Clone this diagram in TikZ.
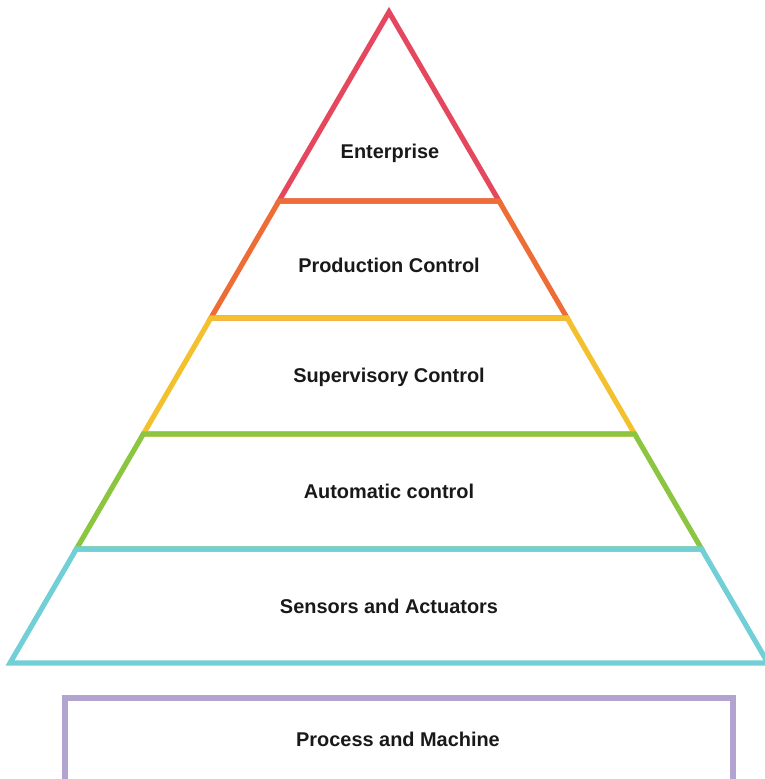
\documentclass[tikz,border=0pt]{standalone}
\usepackage{fontspec}
\setmainfont{Liberation Sans}
\usetikzlibrary{calc}
\definecolor{layerRed}{HTML}{E5485E}
\definecolor{layerOrange}{HTML}{EE6D36}
\definecolor{layerYellow}{HTML}{F4C12E}
\definecolor{layerGreen}{HTML}{8CC540}
\definecolor{layerCyan}{HTML}{72CFD6}
\definecolor{layerPurple}{HTML}{B3A3D1}

\begin{document}
\begin{tikzpicture}[
  x=0.03cm,y=-0.03cm,
  layer/.style={line width=4.4pt,line join=miter},
  label/.style={font=\bfseries\fontsize{17}{19}\selectfont,text=black!90,inner sep=1pt}
]
\useasboundingbox (0,0) rectangle (765,779);

\coordinate (apex) at (389,12);
\coordinate (baseL) at (10,663);
\coordinate (baseR) at (768,663);

% level boundaries, given as fraction of the height from the apex
\foreach \f [count=\i] in {0.2903,0.4700,0.6482,0.8249,1} {
  \coordinate (l\i) at ($(apex)!\f!(baseL)$);
  \coordinate (r\i) at ($(apex)!\f!(baseR)$);
}

\draw[layer,draw=layerRed] (apex) -- (l1) -- (r1) -- cycle;
\draw[layer,draw=layerOrange] (l1) -- (l2) -- (r2) -- (r1) -- cycle;
\draw[layer,draw=layerYellow] (l2) -- (l3) -- (r3) -- (r2) -- cycle;
\draw[layer,draw=layerGreen] (l3) -- (l4) -- (r4) -- (r3) -- cycle;
\draw[layer,draw=layerCyan] (l4) -- (l5) -- (r5) -- (r4) -- cycle;

\draw[layer,draw=layerPurple] (65,698) rectangle (733,790);

\node[label] (enterprise) at (390,153) {Enterprise};
\node[label] (production) at (389,265) {Production Control};
\node[label] (supervisory) at (389,377) {Supervisory Control};
\node[label] (automatic) at (389,491) {Automatic control};
\node[label] (sensors) at (389,606) {Sensors and Actuators};
\node[label] (process) at (398,739) {Process and Machine};
\end{tikzpicture}
\end{document}
